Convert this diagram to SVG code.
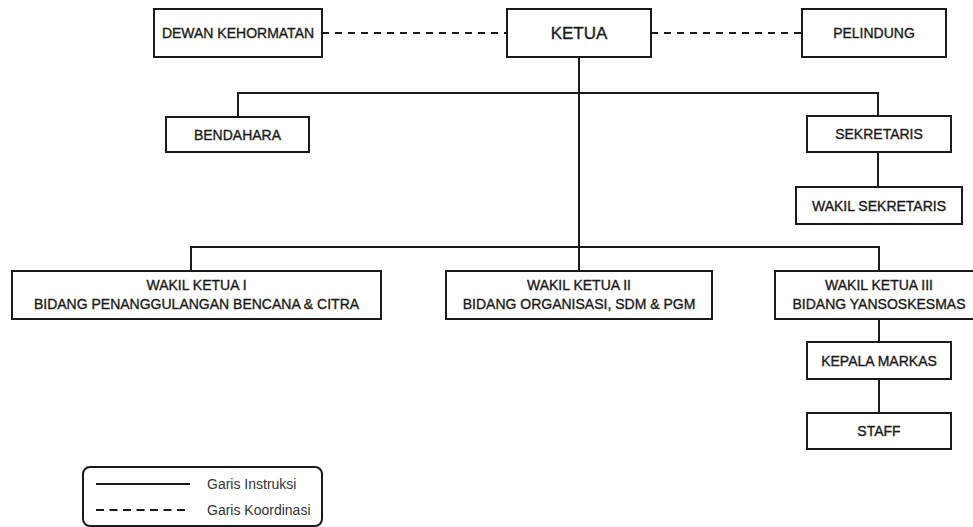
<svg xmlns="http://www.w3.org/2000/svg" width="973" height="527" viewBox="0 0 973 527">
<style>
.box{fill:#fff;stroke:#1a1a1a;stroke-width:2}
.t{font-family:"Liberation Sans",Arial,sans-serif;font-size:14px;fill:#1a1a1a;stroke:#1a1a1a;stroke-width:0.35;text-anchor:middle;dominant-baseline:central}
.big{font-size:17px}
.ln{fill:none;stroke:#1a1a1a;stroke-width:2}
.dash{fill:none;stroke:#1a1a1a;stroke-width:2;stroke-dasharray:7 6}
.lg{font-family:"Liberation Sans",Arial,sans-serif;font-size:14px;fill:#333}
</style>
<rect width="973" height="527" fill="#fff"/>
<g id="connectors">
<path class="dash" d="M322 33H507"/>
<path class="dash" d="M651 33H802"/>
<path class="ln" d="M579 57V271"/>
<path class="ln" d="M238 117V93H878V116"/>
<path class="ln" d="M878 152V187"/>
<path class="ln" d="M191 271V247H879V271"/>
<path class="ln" d="M879 319V342"/>
<path class="ln" d="M879 379V413"/>
</g>
<g id="dewan-kehormatan"><rect class="box" x="154" y="9" width="168" height="48"/><text class="t" x="238" y="33">DEWAN KEHORMATAN</text></g>
<g id="ketua"><rect class="box" x="507" y="9" width="144" height="48"/><text class="t big" x="579" y="33">KETUA</text></g>
<g id="pelindung"><rect class="box" x="802" y="9" width="144" height="48"/><text class="t" x="874" y="33">PELINDUNG</text></g>
<g id="bendahara"><rect class="box" x="166" y="117" width="143" height="35"/><text class="t" x="237.5" y="134.5">BENDAHARA</text></g>
<g id="sekretaris"><rect class="box" x="807" y="116" width="144" height="36"/><text class="t" x="879" y="134">SEKRETARIS</text></g>
<g id="wakil-sekretaris"><rect class="box" x="796" y="187" width="166" height="37"/><text class="t" x="879" y="205.5">WAKIL SEKRETARIS</text></g>
<g id="wakil-ketua-1"><rect class="box" x="12" y="271" width="369" height="48"/><text class="t" x="196.5" y="285">WAKIL KETUA I</text><text class="t" x="196.5" y="303.5">BIDANG PENANGGULANGAN BENCANA &amp; CITRA</text></g>
<g id="wakil-ketua-2"><rect class="box" x="446" y="271" width="266" height="48"/><text class="t" x="579" y="285">WAKIL KETUA II</text><text class="t" x="579" y="303.5">BIDANG ORGANISASI, SDM &amp; PGM</text></g>
<g id="wakil-ketua-3"><rect class="box" x="775" y="271" width="208" height="48"/><text class="t" x="879" y="285">WAKIL KETUA III</text><text class="t" x="879" y="303.5">BIDANG YANSOSKESMAS</text></g>
<g id="kepala-markas"><rect class="box" x="807" y="342" width="144" height="37"/><text class="t" x="879" y="360.5">KEPALA MARKAS</text></g>
<g id="staff"><rect class="box" x="807" y="413" width="144" height="36"/><text class="t" x="879" y="431">STAFF</text></g>
<g id="legend">
<rect x="83" y="467" width="239" height="59" rx="7" fill="#fff" stroke="#1a1a1a" stroke-width="2"/>
<path class="ln" d="M96 484H190"/>
<path class="ln" d="M96 510H190" stroke-dasharray="8 5.5"/>
<text class="lg" x="207" y="489">Garis Instruksi</text>
<text class="lg" x="207" y="515">Garis Koordinasi</text>
</g>
</svg>
